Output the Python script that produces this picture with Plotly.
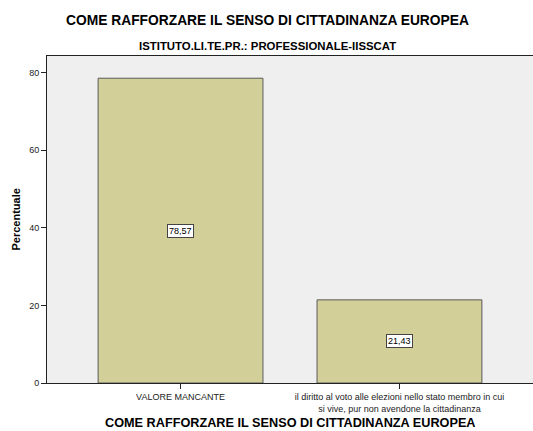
import plotly.graph_objects as go

categories = ["VALORE MANCANTE",
              "il diritto al voto alle elezioni nello stato membro in cui<br>si vive, pur non avendone la cittadinanza"]
values = [78.57, 21.43]
value_labels = ["78,57", "21,43"]
y_ticks = [0, 20, 40, 60, 80]

FONT = "Liberation Sans, Arial, sans-serif"
xs = list(range(len(categories)))

fig = go.Figure()
fig.add_trace(go.Bar(
    x=xs, y=values, width=0.753,
    marker=dict(color="#d3cf99", line=dict(color="#5a5a5a", width=1)),
    hoverinfo="skip", showlegend=False,
))

for xi, v, lab in zip(xs, values, value_labels):
    fig.add_annotation(x=xi, y=v / 2, xref="x", yref="y", text=lab, showarrow=False,
                       font=dict(family=FONT, size=9, color="#000"),
                       bgcolor="white", bordercolor="#444", borderwidth=1, borderpad=1)

TOP_X = 0.4527  # top titles centred on the page, not the plot area
fig.add_annotation(text="<b>COME RAFFORZARE IL SENSO DI CITTADINANZA EUROPEA</b>", showarrow=False,
                   xref="paper", yref="paper", x=TOP_X, y=1, yanchor="middle", yshift=36,
                   font=dict(family=FONT, size=13.8, color="#000"))
fig.add_annotation(text="<b>ISTITUTO.LI.TE.PR.: PROFESSIONALE-IISSCAT</b>", showarrow=False,
                   xref="paper", yref="paper", x=TOP_X, y=1, yanchor="middle", yshift=10,
                   font=dict(family=FONT, size=11.4, color="#000"))
fig.add_annotation(text="<b>COME RAFFORZARE IL SENSO DI CITTADINANZA EUROPEA</b>", showarrow=False,
                   xref="paper", yref="paper", x=0.5, y=0, yanchor="middle", yshift=-40,
                   font=dict(family=FONT, size=12.7, color="#000"))
fig.add_annotation(text="<b>Percentuale</b>", showarrow=False, textangle=-90,
                   xref="paper", yref="paper", x=0, y=0.5, xanchor="center", xshift=-32,
                   font=dict(family=FONT, size=11, color="#000"))

fig.update_layout(
    width=533, height=431,
    margin=dict(l=47, r=0, t=56, b=48),
    paper_bgcolor="white", plot_bgcolor="#efefef",
    xaxis=dict(range=[-0.61, 1.61], tickvals=xs, ticktext=categories,
               showgrid=False, zeroline=False, showline=True, linecolor="#222", linewidth=1,
               mirror=True, ticks="outside", ticklen=5, tickcolor="#222",
               tickfont=dict(family=FONT, size=9, color="#222")),
    yaxis=dict(range=[0, 84.3], tickvals=y_ticks, showgrid=False, zeroline=False,
               showline=True, linecolor="#222", linewidth=1, ticks="outside", ticklen=5,
               tickcolor="#222", tickfont=dict(family=FONT, size=9, color="#222")),
    font=dict(family=FONT),
)

fig.write_html("out.html", config={"displayModeBar": False},
               post_script="document.body.style.margin='0';")
